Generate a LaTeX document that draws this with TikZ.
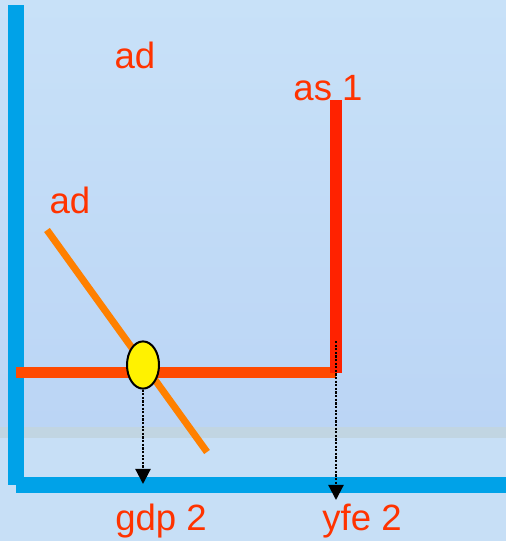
\documentclass[tikz,border=0pt]{standalone}
\usepackage{fontspec}
\setmainfont{Liberation Sans}
\usetikzlibrary{arrows.meta,shapes.geometric}

\definecolor{bgtop}{HTML}{C8E1F8}
\definecolor{bgmid}{HTML}{BBD5F5}
\definecolor{bgband}{HTML}{C1D5E2}
\definecolor{bglow}{HTML}{C7DFF6}
\definecolor{axisblue}{HTML}{00A2E8}
\definecolor{asred}{HTML}{FF2200}
\definecolor{lrred}{HTML}{FF4A00}
\definecolor{adorange}{HTML}{FF8000}
\definecolor{labelred}{HTML}{FF3300}

\begin{document}
\begin{tikzpicture}[
    x=0.025cm, y=-0.025cm,
    lbl/.style={text=labelred, inner sep=0pt, font=\fontsize{26}{30}\selectfont},
    axis/.style={draw=axisblue, line width=0.4cm},
    curve/.style={line width=#1},
    drop/.style={densely dotted, line width=0.055cm, -{Triangle[width=0.38cm, length=0.38cm]}}
]
% background
\useasboundingbox (0,0) rectangle (506,541);
\shade[top color=bgtop, bottom color=bgmid] (0,0) rectangle (506,427);
\fill[bgband] (0,427) rectangle (506,438);
\fill[bglow] (0,438) rectangle (506,541);

% axes
\draw[axis] (16,5) -- (16,485);
\draw[axis] (16,485) -- (506,485);

% curves
\draw[curve=0.175cm, adorange] (47,230) -- (207,452);
\draw[curve=0.275cm, lrred] (16,372.5) -- (336,372.5);
\draw[curve=0.3cm, asred] (336,100) -- (336,373);

% equilibrium
\node (eq) [ellipse, draw=black, line width=0.05cm, fill=yellow, minimum width=0.8cm, minimum height=1.18cm, inner sep=0pt] at (143,365) {};
\coordinate (gdpfoot) at (143,484);
\coordinate (astop) at (336,341);
\coordinate (yfefoot) at (336,500);
\draw[drop] (eq.south) -- (gdpfoot);
\draw[drop] (astop) -- (yfefoot);

% labels
\node (adtop) [lbl] at (135,55) {ad};
\node (adline) [lbl] at (70,200) {ad};
\node (as) [lbl] at (328,88) {as 1};
\node (gdp) [lbl] at (161,521) {gdp 2};
\node (yfe) [lbl] at (362,521) {yfe 2};
\end{tikzpicture}
\end{document}
